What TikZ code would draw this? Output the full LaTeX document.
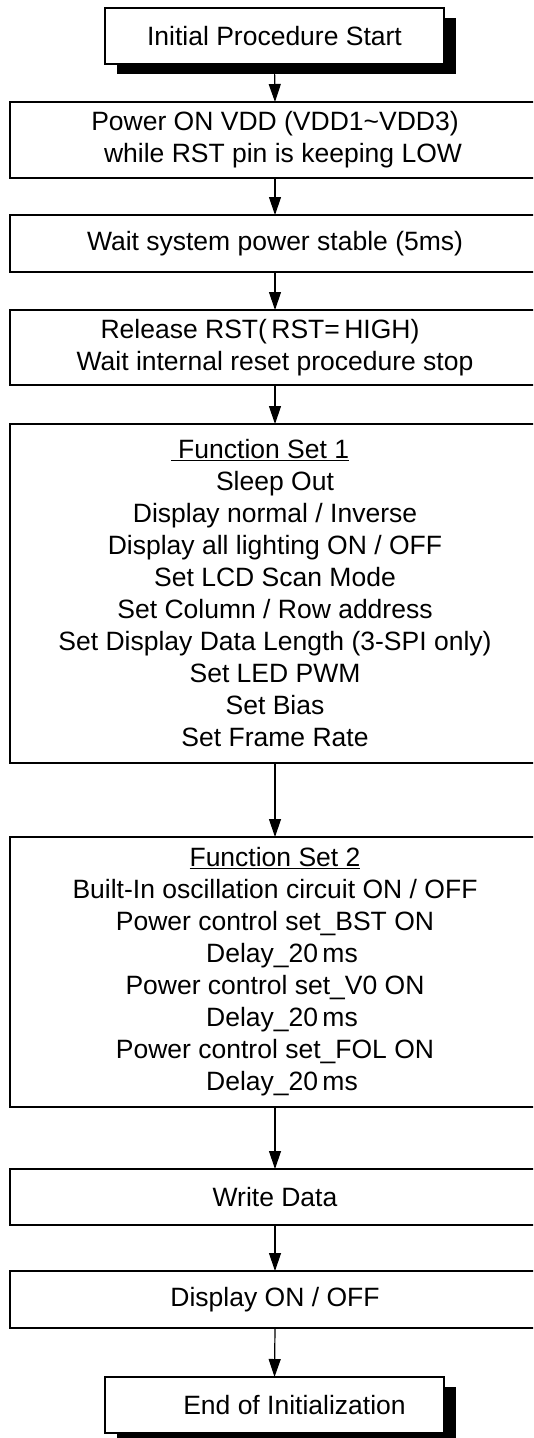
\documentclass[tikz,border=0pt]{standalone}
\usepackage{fontspec}
\setmainfont{Liberation Sans}
\usetikzlibrary{arrows.meta,shadows}
\begin{document}
\begin{tikzpicture}[x=1pt,y=-1pt,
  every node/.style={font=\fontsize{26.5pt}{32pt}\selectfont, inner sep=0pt, outer sep=0pt},
  stepbox/.style={draw, line width=1.4pt, rectangle, minimum width=530pt, align=center},
  termbox/.style={draw, line width=1.4pt, rectangle, fill=white, minimum width=339pt, minimum height=56pt, align=center,
     drop shadow={shadow xshift=12pt, shadow yshift=-10pt, fill=black, opacity=1}},
  flow/.style={line width=1.2pt, -{Triangle[length=18pt,width=12pt]}}
]
\clip (0,0) rectangle (533,1438);
\fill[white] (0,0) rectangle (533,1438);

\node[termbox] (start) at (274.5,36) {Initial Procedure Start};
\node[stepbox, minimum height=76pt] (b2) at (275,140)
  {Power ON VDD (VDD1\textasciitilde VDD3)\\\makebox[16pt]{}while RST pin is keeping LOW};
\node[stepbox, minimum height=57pt] (b3) at (275,243.5) {Wait system power stable (5ms)};
\node[stepbox, minimum height=75pt] (b4) at (275,347.5)
  {Release RST(\,RST=\,HIGH)\makebox[30pt]{}\\Wait internal reset procedure stop};
\node[stepbox, minimum height=339pt] (fs1) at (275,593.5)
  {\underline{\ Function Set 1}\makebox[30pt]{}\\
   Sleep Out\\
   Display normal / Inverse\\
   Display all lighting ON / OFF\\
   Set LCD Scan Mode\\
   Set Column / Row address\\
   Set Display Data Length (3-SPI only)\\
   Set LED PWM\\
   Set Bias\\
   Set Frame Rate};
\node[stepbox, minimum height=270pt] (fs2) at (275,972)
  {\underline{Function Set 2}\\
   Built-In oscillation circuit ON / OFF\\
   Power control set\_BST ON\\
   \makebox[14pt]{}Delay\_20\,ms\\
   Power control set\_V0 ON\\
   \makebox[14pt]{}Delay\_20\,ms\\
   Power control set\_FOL ON\\
   \makebox[14pt]{}Delay\_20\,ms};
\node[stepbox, minimum height=56pt] (wd) at (275,1197) {Write Data};
\node[stepbox, minimum height=57pt] (don) at (275,1299.5) {Display ON / OFF};
\node[termbox] (end) at (274.5,1405) {\makebox[40pt]{}End of Initialization};

\draw[flow] (start.south) -- (b2.north);
\draw[flow] (b2.south) -- (b3.north);
\draw[flow] (b3.south) -- (b4.north);
\draw[flow] (b4.south) -- (fs1.north);
\draw[flow] (fs1.south) -- (fs2.north);
\draw[flow] (fs2.south) -- (wd.north);
\draw[flow] (wd.south) -- (don.north);
\draw[flow] (don.south) -- (end.north);
\end{tikzpicture}
\end{document}
